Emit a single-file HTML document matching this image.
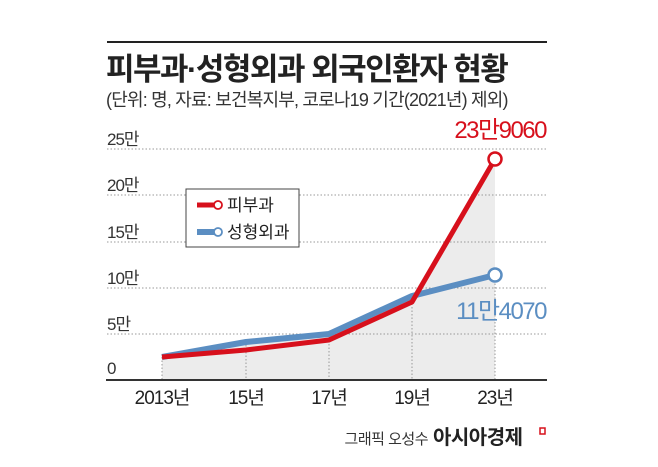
<!DOCTYPE html>
<html><head><meta charset="utf-8"><style>
body{margin:0;background:#fff;}
svg text{font-family:"Liberation Sans","Noto Sans CJK KR",sans-serif;}
</style></head><body>
<svg width="658" height="462" viewBox="0 0 658 462" xmlns="http://www.w3.org/2000/svg">
<rect width="658" height="462" fill="#fff"/>
<line x1="107" y1="42" x2="547" y2="42" stroke="#222" stroke-width="2"/>
<text x="106" y="80" font-size="31" font-weight="bold" fill="#222" letter-spacing="-1.5">피부과·성형외과 외국인환자 현황</text>
<text x="106" y="106" font-size="18" fill="#333" letter-spacing="-0.8">(단위: 명, 자료: 보건복지부, 코로나19 기간(2021년) 제외)</text>
<polygon points="162,357 246,342 329,334 412,296 495,159 495,380 162,380" fill="#ececec"/>
<g stroke="#999" stroke-width="1" stroke-dasharray="1.5,2">
<line x1="107" y1="149" x2="547" y2="149"/><line x1="107" y1="195" x2="547" y2="195"/>
<line x1="107" y1="242" x2="547" y2="242"/><line x1="107" y1="288" x2="547" y2="288"/>
<line x1="107" y1="334" x2="547" y2="334"/>
<line x1="162" y1="357" x2="162" y2="380"/><line x1="246" y1="345" x2="246" y2="380"/>
<line x1="329" y1="337" x2="329" y2="380"/><line x1="412" y1="300" x2="412" y2="380"/>
<line x1="495" y1="280" x2="495" y2="380"/>
</g>
<line x1="106" y1="380" x2="547" y2="380" stroke="#333" stroke-width="2"/>
<g font-size="17" fill="#333" letter-spacing="-1">
<text x="107" y="145">25만</text><text x="107" y="191">20만</text><text x="107" y="238">15만</text>
<text x="107" y="284">10만</text><text x="107" y="330">5만</text><text x="107" y="374">0</text>
</g>
<g font-size="19" fill="#222" text-anchor="middle" letter-spacing="-1">
<text x="162" y="404">2013년</text><text x="246" y="404">15년</text><text x="329" y="404">17년</text>
<text x="412" y="404">19년</text><text x="495" y="404">23년</text>
</g>
<polyline points="162,357 246,342 329,334 412,296 495,275" fill="none" stroke="#5b8ec2" stroke-width="6" stroke-linejoin="round"/>
<polyline points="162,357 246,350 329,340 412,302 495,159" fill="none" stroke="#d7101c" stroke-width="5" stroke-linejoin="round"/>
<circle cx="495" cy="159" r="6.5" fill="#fff" stroke="#d7101c" stroke-width="2.5"/>
<circle cx="495" cy="275" r="6.5" fill="#fff" stroke="#5b8ec2" stroke-width="2.5"/>
<text x="546" y="138" font-size="24" fill="#d7101c" text-anchor="end" letter-spacing="-1.5">23만9060</text>
<text x="546" y="319" font-size="24" fill="#5b8ec2" text-anchor="end" letter-spacing="-1.5">11만4070</text>
<rect x="186" y="189" width="113" height="58" fill="#fff" stroke="#444" stroke-width="1"/>
<line x1="197" y1="205" x2="215" y2="205" stroke="#d7101c" stroke-width="5"/>
<circle cx="218" cy="205" r="4" fill="#fff" stroke="#d7101c" stroke-width="1.8"/>
<line x1="197" y1="232" x2="215" y2="232" stroke="#5b8ec2" stroke-width="6"/>
<circle cx="218" cy="232" r="4" fill="#fff" stroke="#5b8ec2" stroke-width="1.8"/>
<text x="227" y="211" font-size="17" fill="#222">피부과</text>
<text x="227" y="238" font-size="17" fill="#222">성형외과</text>
<text x="428" y="444" font-size="15" fill="#333" text-anchor="end" letter-spacing="-0.5">그래픽 오성수</text>
<text x="433" y="444" font-size="20" font-weight="bold" fill="#222" letter-spacing="-0.5">아시아경제</text>
<rect x="540" y="428" width="5" height="6" fill="none" stroke="#d7101c" stroke-width="1.5"/>
</svg>
</body></html>
